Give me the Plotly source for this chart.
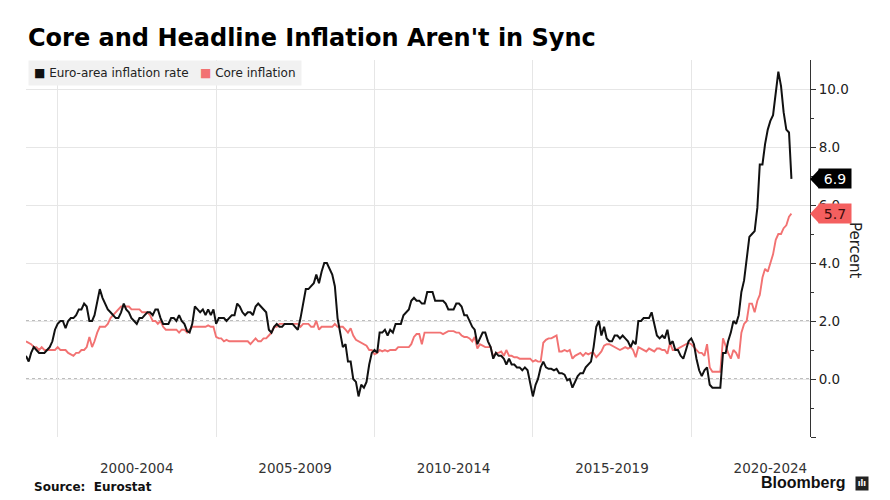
import pandas as pd
import plotly.graph_objects as go

# ---------------- data (monthly, annual % change) ----------------
start_month = "1999-01-01"

headline = [
    0.8, 0.6, 0.9, 1.1, 1.0, 0.9, 0.9, 0.9, 1.0, 1.1, 1.3, 1.7,      # 1999
    1.9, 2.0, 2.0, 1.75, 2.0, 2.1, 2.1, 2.2, 2.4, 2.4, 2.6, 2.5,     # 2000
    2.0, 2.0, 2.2, 2.6, 3.1, 2.8, 2.6, 2.4, 2.3, 2.2, 2.1, 2.1,      # 2001
    2.3, 2.6, 2.4, 2.3, 2.1, 2.0, 1.9, 2.1, 2.1, 2.2, 2.3, 2.3,      # 2002
    2.2, 2.4, 2.4, 2.1, 1.9, 1.9, 1.9, 2.1, 2.1, 2.0, 2.2, 2.0,      # 2003
    1.9, 1.65, 1.6, 1.9, 2.5, 2.4, 2.3, 2.4, 2.2, 2.4, 2.2, 2.4,     # 2004
    1.9, 2.1, 2.1, 2.1, 2.0, 2.1, 2.2, 2.2, 2.6, 2.5, 2.3, 2.2,      # 2005
    2.3, 2.3, 2.2, 2.5, 2.6, 2.5, 2.4, 2.3, 1.7, 1.6, 1.8, 1.9,      # 2006
    1.8, 1.8, 1.9, 1.9, 1.9, 1.9, 1.8, 1.7, 2.1, 2.6, 3.1, 3.1,      # 2007
    3.2, 3.3, 3.6, 3.3, 3.7, 4.0, 4.0, 3.8, 3.6, 3.2, 2.1, 1.6,      # 2008
    1.1, 1.2, 0.6, 0.6, 0.0, -0.1, -0.6, -0.2, -0.3, -0.1, 0.5, 0.9, # 2009
    1.0, 0.9, 1.6, 1.6, 1.7, 1.5, 1.7, 1.6, 1.9, 1.9, 1.9, 2.2,      # 2010
    2.3, 2.4, 2.7, 2.8, 2.7, 2.7, 2.6, 2.6, 3.0, 3.0, 3.0, 2.7,      # 2011
    2.7, 2.7, 2.7, 2.6, 2.4, 2.4, 2.4, 2.6, 2.6, 2.5, 2.2, 2.2,      # 2012
    2.0, 1.8, 1.7, 1.2, 1.4, 1.6, 1.6, 1.3, 1.1, 0.7, 0.9, 0.8,      # 2013
    0.8, 0.7, 0.5, 0.7, 0.5, 0.5, 0.4, 0.4, 0.3, 0.4, 0.3, -0.2,     # 2014
    -0.6, -0.2, 0.0, 0.4, 0.6, 0.4, 0.35, 0.35, 0.3, 0.35, 0.2, 0.2, # 2015
    0.15, -0.05, 0.0, -0.3, -0.1, 0.1, 0.2, 0.2, 0.4, 0.5, 0.6, 1.1, # 2016
    1.8, 2.0, 1.5, 1.8, 1.4, 1.3, 1.3, 1.5, 1.5, 1.4, 1.5, 1.4,      # 2017
    1.3, 1.1, 1.3, 1.2, 2.0, 2.0, 2.1, 2.1, 2.1, 2.3, 1.9, 1.5,      # 2018
    1.4, 1.5, 1.4, 1.7, 1.2, 1.3, 1.0, 1.0, 0.8, 0.7, 1.0, 1.3,      # 2019
    1.4, 1.2, 0.7, 0.3, 0.1, 0.3, 0.4, -0.2, -0.3, -0.3, -0.3, -0.3, # 2020
    0.9, 0.9, 1.3, 1.6, 2.0, 1.9, 2.2, 3.0, 3.4, 4.1, 4.9, 5.0,      # 2021
    5.1, 5.9, 7.4, 7.4, 8.1, 8.6, 8.9, 9.1, 9.9, 10.6, 10.1, 9.2,    # 2022
    8.6, 8.5, 6.9,                                                   # 2023
]

core = [
    1.3, 1.25, 1.2, 1.1, 1.1, 1.0, 1.1, 1.0, 1.0, 1.0, 1.0, 1.0,     # 1999
    1.1, 1.0, 1.0, 1.0, 0.9, 0.85, 0.8, 0.9, 0.9, 1.0, 1.0, 1.1,     # 2000
    1.45, 1.1, 1.3, 1.6, 1.8, 1.8, 1.8, 1.9, 2.1, 2.2, 2.3, 2.4,     # 2001
    2.5, 2.5, 2.5, 2.5, 2.4, 2.4, 2.4, 2.4, 2.3, 2.3, 2.3, 2.2,      # 2002
    2.0, 2.0, 1.9, 2.0, 1.8, 1.7, 1.7, 1.7, 1.7, 1.7, 1.6, 1.7,      # 2003
    1.7, 1.6, 1.7, 1.8, 1.8, 1.8, 1.8, 1.8, 1.8, 1.85, 1.8, 1.8,     # 2004
    1.45, 1.4, 1.4, 1.3, 1.35, 1.3, 1.3, 1.3, 1.3, 1.3, 1.3, 1.3,    # 2005
    1.3, 1.2, 1.3, 1.4, 1.3, 1.3, 1.4, 1.4, 1.5, 1.6, 1.8, 1.8,      # 2006
    1.9, 1.9, 1.9, 1.9, 1.9, 1.9, 1.9, 1.9, 1.8, 1.9, 1.9, 1.9,      # 2007
    1.8, 1.8, 2.0, 1.7, 1.8, 1.8, 1.8, 1.8, 1.8, 1.9, 1.8, 1.8,      # 2008
    1.8, 1.7, 1.6, 1.75, 1.5, 1.35, 1.3, 1.25, 1.2, 1.15, 1.0, 1.0,  # 2009
    0.85, 0.9, 1.0, 0.95, 1.0, 0.95, 1.0, 1.0, 1.0, 1.1, 1.1, 1.1,   # 2010
    1.1, 1.1, 1.2, 1.45, 1.55, 1.55, 1.2, 1.6, 1.6, 1.6, 1.6, 1.6,   # 2011
    1.6, 1.6, 1.55, 1.6, 1.65, 1.65, 1.65, 1.6, 1.6, 1.5, 1.45, 1.45,# 2012
    1.4, 1.3, 1.45, 1.05, 1.2, 1.15, 1.1, 1.1, 1.1, 0.75, 0.9, 0.9,  # 2013
    0.95, 0.8, 1.0, 0.8, 0.8, 0.75, 0.75, 0.7, 0.7, 0.7, 0.7, 0.7,   # 2014
    0.6, 0.65, 0.6, 0.6, 1.25, 1.35, 1.4, 1.4, 1.45, 1.5, 0.95, 0.95,# 2015
    1.0, 0.95, 1.0, 0.7, 0.8, 0.85, 0.9, 0.8, 0.9, 0.85, 0.9, 0.9,   # 2016
    0.75, 0.85, 0.95, 1.15, 1.2, 1.2, 1.15, 1.1, 1.05, 1.0, 1.05, 1.1, # 2017
    1.05, 1.1, 1.0, 0.75, 1.1, 1.05, 1.0, 0.95, 1.05, 1.0, 0.95, 1.05, # 2018
    1.05, 1.0, 1.0, 0.87, 1.25, 1.0, 1.0, 1.05, 1.1, 1.15, 1.2, 1.25,  # 2019
    1.2, 1.1, 1.0, 0.9, 0.9, 0.8, 1.2, 0.4, 0.25, 0.25, 0.25, 0.25,  # 2020
    1.4, 1.1, 0.9, 0.7, 1.0, 0.9, 0.7, 1.6, 1.9, 2.0, 2.6, 2.6,      # 2021
    2.3, 2.7, 2.9, 3.5, 3.8, 3.7, 4.0, 4.3, 4.8, 5.0, 5.0, 5.2,      # 2022
    5.3, 5.6, 5.7,                                                   # 2023
]

series_names = ["Euro-area inflation rate", "Core inflation"]
period_labels = ["2000-2004", "2005-2009", "2010-2014", "2015-2019", "2020-2024"]
period_mid = ["2002-07-01", "2007-07-01", "2012-07-01", "2017-07-01", "2022-07-01"]
y_ticks = [-2, 0, 2, 4, 6, 8, 10]
y_ticktext = ["", "0.0", "2.0", "4.0", "6.0", "8.0", "10.0"]
y_minor = [-1, 1, 3, 5, 7, 9]
ref_lines = [0, 2]

# ---------------- styling ----------------
BLACK = "#111111"
RED = "#f27272"
RED_BOX = "#f45f5f"
FONT = "DejaVu Sans"

dates = pd.date_range(start_month, periods=len(headline), freq="MS")

fig = go.Figure()
fig.add_trace(go.Scatter(x=dates, y=core, mode="lines", name=series_names[1],
                         line=dict(color=RED, width=1.9)))
fig.add_trace(go.Scatter(x=dates, y=headline, mode="lines", name=series_names[0],
                         line=dict(color=BLACK, width=2.0)))

shapes = []
for v in ref_lines:
    shapes.append(dict(type="line", xref="paper", x0=0, x1=1, yref="y", y0=v, y1=v,
                       line=dict(color="#a8a8a8", width=1.5, dash="dot"), layer="between"))

annotations = []
# end-value labels
for val, bg, fg in [(headline[-1], "#000000", "#ffffff"), (core[-1], RED_BOX, "#3a0b0b")]:
    shapes.append(dict(type="path", xref="paper", xsizemode="pixel", xanchor=1,
                       yref="y", ysizemode="pixel", yanchor=val,
                       path="M0,0 L9,-9.5 L9,9.5 Z", fillcolor=bg,
                       line=dict(width=0), layer="above"))
    annotations.append(dict(xref="paper", x=1, xshift=8, xanchor="left",
                            yref="y", y=val, yanchor="middle",
                            text=f"{val:.1f}", showarrow=False, bgcolor=bg,
                            font=dict(family=FONT, size=14, color=fg),
                            width=28, height=15, borderpad=2))

# legend box
annotations.append(dict(
    xref="paper", x=0, xshift=2, xanchor="left",
    yref="paper", y=1, yshift=0, yanchor="top",
    text=(f'<span style="color:{BLACK}">■</span> {series_names[0]}   '
          f'<span style="color:{RED}">■</span> {series_names[1]}'),
    showarrow=False, bgcolor="#f1f1f1", borderpad=5,
    font=dict(family=FONT, size=12, color="#222222")))

# axis title
annotations.append(dict(xref="paper", x=1, xshift=45, xanchor="center",
                        yref="paper", y=0.496, yanchor="middle",
                        text="Percent", textangle=90, showarrow=False,
                        font=dict(family=FONT, size=15, color="#222222")))

# source & branding
annotations.append(dict(xref="paper", x=0, xshift=6, xanchor="left",
                        yref="paper", y=-0.1326, yanchor="middle",
                        text="<b>Source:  Eurostat</b>", showarrow=False,
                        font=dict(family=FONT, size=12, color="#111111")))
annotations.append(dict(xref="paper", x=1, xshift=37, xanchor="right",
                        yref="paper", y=-0.122, yanchor="middle",
                        text="<b>Bloomberg</b>", showarrow=False,
                        font=dict(family="Liberation Sans", size=16, color="#111111")))
annotations.append(dict(xref="paper", x=1, xshift=45, xanchor="left",
                        yref="paper", y=-0.124, yanchor="middle",
                        text="<b>ılı</b>", showarrow=False, bgcolor="#222222",
                        width=10, height=11, borderpad=1,
                        font=dict(family=FONT, size=8, color="#ffffff")))

fig.update_layout(
    width=890, height=500,
    margin=dict(l=26, r=80, t=60, b=63),
    paper_bgcolor="white", plot_bgcolor="white",
    showlegend=False,
    font=dict(family=FONT, color="#222222"),
    title=dict(text="<b>Core and Headline Inflation Aren't in Sync</b>",
               x=28 / 890, xref="container", xanchor="left",
               y=1 - 38 / 500, yref="container", yanchor="middle",
               font=dict(family=FONT, size=24, color="#000000")),
    xaxis=dict(type="date", range=["1999-01-01", "2023-10-01"],
               tickvals=period_mid, ticktext=period_labels,
               ticks="", showgrid=False, zeroline=False, showline=False,
               ticklabelstandoff=21,
               tickfont=dict(family=FONT, size=13.5, color="#333333"),
               minor=dict(dtick="M60", tick0="2000-01-01", showgrid=True,
                          gridcolor="#e6e6e6", gridwidth=1)),
    yaxis=dict(side="right", range=[-2, 11], tickvals=y_ticks, ticktext=y_ticktext,
               ticks="outside", ticklen=5, tickcolor="#333333", tickwidth=1,
               showline=True, linecolor="#333333", linewidth=1,
               showgrid=True, gridcolor="#e6e6e6", gridwidth=1, zeroline=False,
               tickfont=dict(family=FONT, size=13.5, color="#222222"),
               minor=dict(tickvals=y_minor, ticks="outside", ticklen=3,
                          tickcolor="#333333", showgrid=False)),
    shapes=shapes,
    annotations=annotations,
)

fig.write_html("out.html")
